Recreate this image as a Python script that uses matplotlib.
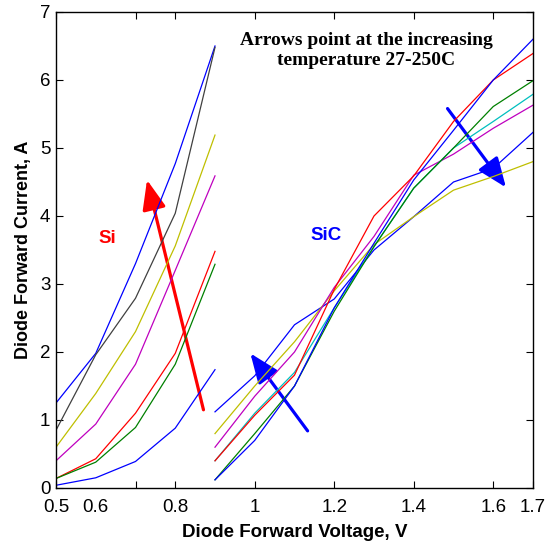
import matplotlib
matplotlib.use("Agg")
import matplotlib.pyplot as plt
from matplotlib.patches import FancyArrowPatch

plt.rcParams['font.family'] = ['Liberation Sans', 'DejaVu Sans']

# Si diodes, 0.5 .. 0.9 V
si_v = [0.5, 0.6, 0.7, 0.8, 0.9]
si_curves = [
    ('#0000FF', [1.25, 1.98, 3.30, 4.77, 6.50]),
    ('#404040', [0.85, 1.96, 2.79, 4.04, 6.48]),
    ('#BFBF00', [0.60, 1.39, 2.30, 3.56, 5.19]),
    ('#BF00BF', [0.40, 0.94, 1.82, 3.20, 4.59]),
    ('#FF0000', [0.14, 0.43, 1.10, 1.98, 3.48]),
    ('#008000', [0.14, 0.38, 0.89, 1.82, 3.29]),
    ('#0000FF', [0.04, 0.15, 0.39, 0.88, 1.74]),
]

# SiC diodes, 0.9 .. 1.7 V
sic_v = [0.9, 1.0, 1.1, 1.2, 1.3, 1.4, 1.5, 1.6, 1.7]
sic_curves = [
    ('#0000FF', [1.12, 1.65, 2.40, 2.78, 3.50, 3.99, 4.50, 4.70, 5.23]),
    ('#BFBF00', [0.80, 1.50, 2.15, 2.90, 3.58, 3.99, 4.38, 4.58, 4.80]),
    ('#BF00BF', [0.60, 1.35, 2.00, 2.95, 3.70, 4.60, 4.91, 5.29, 5.63]),
    ('#00BFBF', [0.40, 1.10, 1.70, 2.65, 3.55, 4.41, 5.00, 5.39, 5.79]),
    ('#FF0000', [0.40, 1.07, 1.66, 2.92, 4.00, 4.59, 5.39, 6.00, 6.39]),
    ('#008000', [0.12, 0.80, 1.50, 2.60, 3.55, 4.41, 5.00, 5.61, 5.99]),
    ('#0000FF', [0.12, 0.70, 1.50, 2.65, 3.60, 4.53, 5.26, 6.00, 6.60]),
]

xticks = [0.5, 0.6, 0.7, 0.8, 1.0, 1.2, 1.4, 1.6, 1.7]
xlabels = ['0.5', '0.6', '', '0.8', '1', '1.2', '1.4', '1.6', '1.7']
yticks = [0, 1, 2, 3, 4, 5, 6, 7]

fig = plt.figure(figsize=(5.52, 5.42), dpi=100)
ax = fig.add_axes([56 / 552, 54 / 542, 477 / 552, 476 / 542])

for c, vals in si_curves:
    ax.plot(si_v, vals, color=c, lw=0.9)
for c, vals in sic_curves:
    ax.plot(sic_v, vals, color=c, lw=0.9)

ax.set_xlim(0.5, 1.7)
ax.set_ylim(0, 7)
ax.set_xticks(xticks)
ax.set_xticklabels(xlabels)
ax.set_yticks(yticks)
ax.tick_params(direction='in', length=5, width=0.8, top=True, right=True,
               labelsize=13.5, pad=4, colors='black')
ax.tick_params(axis='x', pad=8)
ax.xaxis.get_major_ticks()[1].tick1line.set_visible(False)
ax.xaxis.get_major_ticks()[1].tick2line.set_visible(False)
for s in ax.spines.values():
    s.set_linewidth(1.0)

ax.set_xlabel('Diode Forward Voltage, V', fontsize=13.5, fontweight='bold', labelpad=6)
ax.set_ylabel('Diode Forward Current, A', fontsize=13, fontweight='bold', labelpad=6)

ax.text(1.28, 6.43, 'Arrows point at the increasing\ntemperature 27-250C',
        ha='center', va='center', fontsize=14, fontweight='bold',
        family=['Liberation Serif', 'DejaVu Serif'], linespacing=1.25)
ax.text(0.63, 3.67, 'Si', color='#FF0000', fontsize=13.5, fontweight='bold',
        ha='center', va='center')
ax.text(1.18, 3.72, 'SiC', color='#0000FF', fontsize=13.5, fontweight='bold',
        ha='center', va='center')

arrows = [
    ('#FF0000', (0.871, 1.15), (0.729, 4.53)),
    ('#0000FF', (1.133, 0.84), (0.989, 1.98)),
    ('#0000FF', (1.485, 5.58), (1.632, 4.42)),
]
for c, tail, tip in arrows:
    ax.add_patch(FancyArrowPatch(tail, tip, arrowstyle='-|>,head_length=0.9,head_width=0.36',
                                 mutation_scale=20, color=c, lw=2.3,
                                 shrinkA=0, shrinkB=0))

fig.savefig('out.png', dpi=100)
